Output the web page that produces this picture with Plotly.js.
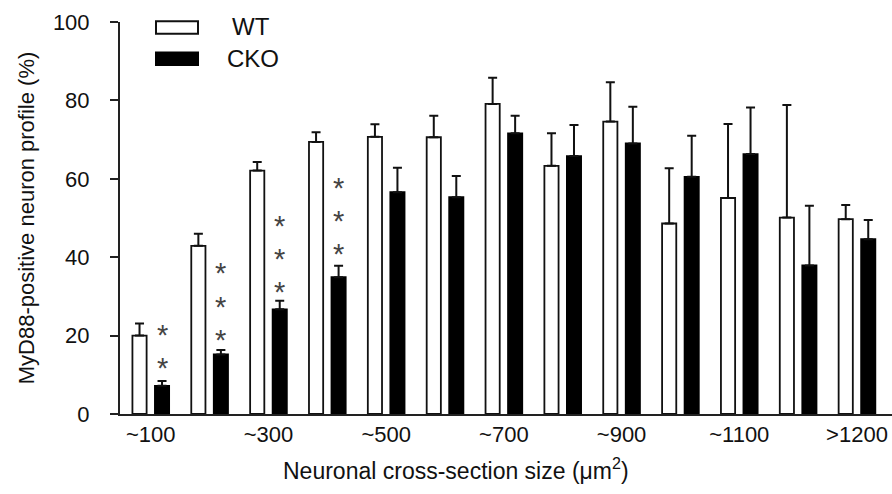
<!DOCTYPE html>
<html>
<head>
<meta charset="utf-8">
<script src="https://cdn.plot.ly/plotly-3.0.1.min.js"></script>
<style>html,body{margin:0;padding:0;background:#fff;}#chart{width:892px;height:494px;}</style>
</head>
<body>
<div id="chart"></div>
<script>
// ---- data ----
const categories = ["~100","~200","~300","~400","~500","~600","~700","~800","~900","~1000","~1100","~1200",">1200"];
const tickLabels = ["~100","~300","~500","~700","~900","~1100",">1200"];
const wtValues  = [20.0, 42.9, 62.1, 69.4, 70.7, 70.6, 79.1, 63.3, 74.6, 48.6, 55.1, 50.1, 49.7];
const wtErr     = [3.1, 3.1, 2.2, 2.5, 3.2, 5.5, 6.7, 8.3, 10.0, 14.1, 18.9, 28.7, 3.6];
const ckoValues = [7.2, 15.2, 26.7, 34.9, 56.6, 55.3, 71.6, 65.8, 69.0, 60.5, 66.3, 37.9, 44.6];
const ckoErr    = [1.2, 1.1, 2.2, 2.9, 6.2, 5.4, 4.5, 7.9, 9.4, 10.5, 11.9, 15.2, 4.9];
// significance asterisks above the CKO bars
const starGroups = ["~100","~200","~300","~400"];
const starCounts = [2, 3, 3, 3];
const starBase   = [13.5, 20.7, 32.8, 42.5];   // y of lowest asterisk
const starStep   = 8.5;
const seriesNames = ["WT","CKO"];
const xTitle = "Neuronal cross-section size (\u03bcm<sup>2</sup>)";
const yTitle = "MyD88-positive neuron profile (%)";

const FONT = "Liberation Sans, Arial, sans-serif";
const INK = "#111";

const traces = [
  {
    type: "bar", name: seriesNames[0], x: categories, y: wtValues,
    marker: {color: "#ffffff", line: {color: INK, width: 1.8}},
    error_y: {type: "data", array: wtErr, symmetric: false, arrayminus: wtErr.map(() => 0),
              color: INK, thickness: 2, width: 4.5},
    showlegend: false
  },
  {
    type: "bar", name: seriesNames[1], x: categories, y: ckoValues,
    marker: {color: "#000000", line: {color: "#000", width: 1.8}},
    error_y: {type: "data", array: ckoErr, symmetric: false, arrayminus: ckoErr.map(() => 0),
              color: INK, thickness: 2, width: 4.5},
    showlegend: false
  }
];

const annotations = [];
starGroups.forEach((g, i) => {
  const idx = categories.indexOf(g);
  for (let k = 0; k < starCounts[i]; k++) {
    annotations.push({
      x: idx + 0.191, y: starBase[i] + k * starStep, xref: "x", yref: "y",
      text: "*", showarrow: false, xanchor: "center", yanchor: "middle", yshift: -7,
      font: {family: FONT, size: 29, color: "#444"}
    });
  }
});
const px2x = p => (p - 120) / 772;
const py2y = p => (414 - p) / 392;
// legend labels
annotations.push({x: px2x(230), y: py2y(27), xref: "paper", yref: "paper", text: seriesNames[0], showarrow: false,
  xanchor: "left", yanchor: "middle", font: {family: FONT, size: 24, color: INK}});
annotations.push({x: px2x(225), y: py2y(58), xref: "paper", yref: "paper", text: seriesNames[1], showarrow: false,
  xanchor: "left", yanchor: "middle", font: {family: FONT, size: 24, color: INK}});
// x-axis title (drawn left of centre, as in the figure)
annotations.push({x: px2x(456), y: py2y(469), xref: "paper", yref: "paper", text: xTitle, showarrow: false,
  xanchor: "center", yanchor: "middle", font: {family: FONT, size: 23, color: INK}});

const shapes = [
  {type: "rect", xref: "paper", yref: "paper", x0: px2x(156), x1: px2x(198),
   y0: 0.970, y1: 1.002, fillcolor: "#fff", line: {color: INK, width: 2}},
  {type: "rect", xref: "paper", yref: "paper", x0: px2x(156), x1: px2x(198),
   y0: 0.890, y1: 0.922, fillcolor: "#000", line: {color: "#000", width: 2}}
];

const layout = {
  width: 892, height: 494,
  margin: {l: 120, r: 0, t: 22, b: 80, pad: 0},
  paper_bgcolor: "#fff", plot_bgcolor: "#fff",
  barmode: "group", bargap: 0.235, bargroupgap: 0.37,
  font: {family: FONT, color: INK},
  xaxis: {
    type: "category", range: [-0.523, 12.595],
    tickmode: "array", tickvals: tickLabels, ticktext: tickLabels,
    showline: true, linecolor: "#222", linewidth: 2, ticks: "",
    showgrid: false, zeroline: false,
    tickfont: {family: FONT, size: 22, color: INK}
  },
  yaxis: {
    range: [0, 100], tickvals: [0, 20, 40, 60, 80, 100],
    showline: true, linecolor: "#222", linewidth: 2,
    ticks: "outside", ticklen: 8, tickwidth: 2, tickcolor: "#222",
    showgrid: false, zeroline: false, ticklabelstandoff: 16,
    tickfont: {family: FONT, size: 22, color: INK},
    title: {text: yTitle, font: {family: FONT, size: 22, color: INK}, standoff: 12}
  },
  annotations: annotations,
  shapes: shapes
};

Plotly.newPlot("chart", traces, layout, {displayModeBar: false, staticPlot: true});
</script>
</body>
</html>
